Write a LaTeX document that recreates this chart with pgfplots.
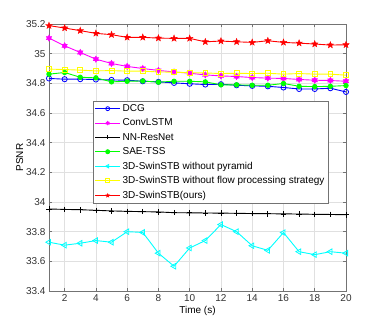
\documentclass[border=0pt]{standalone}
\usepackage{fontspec}
\setmainfont{Liberation Sans}
\usepackage{pgfplots}
\pgfplotsset{compat=1.18}
\definecolor{axgrey}{gray}{0.45}
\definecolor{gridgrey}{gray}{0.88}
\definecolor{mblue}{rgb}{0,0,1}
\definecolor{mmagenta}{rgb}{1,0,1}
\definecolor{mgreen}{rgb}{0,1,0}
\definecolor{mcyan}{rgb}{0,1,1}
\definecolor{myellow}{rgb}{1,1,0}
\definecolor{mred}{rgb}{1,0,0}

% filled five- and six-pointed stars, as MATLAB draws them
\pgfdeclareplotmark{pentagram}{%
  \pgfpathmoveto{\pgfpointpolar{90}{\pgfplotmarksize}}%
  \pgfpathlineto{\pgfpointpolar{126}{0.42\pgfplotmarksize}}%
  \pgfpathlineto{\pgfpointpolar{162}{\pgfplotmarksize}}%
  \pgfpathlineto{\pgfpointpolar{198}{0.42\pgfplotmarksize}}%
  \pgfpathlineto{\pgfpointpolar{234}{\pgfplotmarksize}}%
  \pgfpathlineto{\pgfpointpolar{270}{0.42\pgfplotmarksize}}%
  \pgfpathlineto{\pgfpointpolar{306}{\pgfplotmarksize}}%
  \pgfpathlineto{\pgfpointpolar{342}{0.42\pgfplotmarksize}}%
  \pgfpathlineto{\pgfpointpolar{18}{\pgfplotmarksize}}%
  \pgfpathlineto{\pgfpointpolar{54}{0.42\pgfplotmarksize}}%
  \pgfpathclose\pgfusepathqfillstroke}
\pgfdeclareplotmark{hexagram}{%
  \pgfpathmoveto{\pgfpointpolar{90}{\pgfplotmarksize}}%
  \pgfpathlineto{\pgfpointpolar{120}{0.58\pgfplotmarksize}}%
  \pgfpathlineto{\pgfpointpolar{150}{\pgfplotmarksize}}%
  \pgfpathlineto{\pgfpointpolar{180}{0.58\pgfplotmarksize}}%
  \pgfpathlineto{\pgfpointpolar{210}{\pgfplotmarksize}}%
  \pgfpathlineto{\pgfpointpolar{240}{0.58\pgfplotmarksize}}%
  \pgfpathlineto{\pgfpointpolar{270}{\pgfplotmarksize}}%
  \pgfpathlineto{\pgfpointpolar{300}{0.58\pgfplotmarksize}}%
  \pgfpathlineto{\pgfpointpolar{330}{\pgfplotmarksize}}%
  \pgfpathlineto{\pgfpointpolar{0}{0.58\pgfplotmarksize}}%
  \pgfpathlineto{\pgfpointpolar{30}{\pgfplotmarksize}}%
  \pgfpathlineto{\pgfpointpolar{60}{0.58\pgfplotmarksize}}%
  \pgfpathclose\pgfusepathqfillstroke}

\begin{document}
\begin{tikzpicture}
% page the size of the reference: axis box sits 49px in and 36px up
\path[use as bounding box] (-49pt,-36pt) rectangle (333pt,291pt);
\begin{axis}[
  at={(0pt,0pt)}, anchor=south west,
  scale only axis, width=297pt, height=267pt,
  xmin=1, xmax=20, ymin=33.4, ymax=35.2,
  xtick={2,4,...,20},
  ytick={33.4,33.6,...,35.21},
  yticklabel style={/pgf/number format/fixed,/pgf/number format/precision=1},
  /pgf/number format/assume math mode=true,
  font=\fontsize{10}{12}\selectfont,
  tick label style={font=\fontsize{10}{12}\selectfont,text=black!80},
  grid=major, grid style={gridgrey,line width=0.5pt},
  axis line style={axgrey,line width=0.6pt},
  major tick style={axgrey,line width=0.6pt},
  tick align=inside, major tick length=3pt,
  xlabel={Time (s)}, ylabel={PSNR},
  xlabel style={yshift=2pt},
  ylabel style={yshift=-4pt},
  every axis plot/.append style={line width=0.9pt},
  legend style={at={(0.148,0.713)}, anchor=north west,
    draw=axgrey, line width=0.6pt, font=\fontsize{10}{12}\selectfont,
    row sep=1.9pt, inner sep=1.5pt},
  legend cell align=left,
  legend image code/.code={%
    \draw[mark repeat=2,mark phase=2,mark size=2pt]
      plot coordinates {(0pt,0pt) (12.5pt,0pt) (25pt,0pt)};},
]
\addplot[mblue, mark=o, mark size=2.6pt, mark options={line width=0.8pt}] coordinates {
 (1,34.833) (2,34.828) (3,34.828) (4,34.826) (5,34.823) (6,34.821) (7,34.814)
 (8,34.810) (9,34.803) (10,34.797) (11,34.792) (12,34.794) (13,34.787) (14,34.783)
 (15,34.780) (16,34.772) (17,34.762) (18,34.762) (19,34.767) (20,34.742)};
\addplot[mmagenta, mark=hexagram, mark size=3.2pt, mark options={fill=mmagenta,line width=0.4pt}] coordinates {
 (1,35.105) (2,35.053) (3,35.008) (4,34.963) (5,34.934) (6,34.914) (7,34.900)
 (8,34.887) (9,34.877) (10,34.868) (11,34.857) (12,34.850) (13,34.846) (14,34.839)
 (15,34.835) (16,34.833) (17,34.826) (18,34.821) (19,34.819) (20,34.814)};
\addplot[black, mark=+, mark size=2.8pt, mark options={line width=0.7pt}] coordinates {
 (1,33.953) (2,33.950) (3,33.948) (4,33.944) (5,33.940) (6,33.937) (7,33.935)
 (8,33.933) (9,33.928) (10,33.927) (11,33.926) (12,33.925) (13,33.924) (14,33.922)
 (15,33.921) (16,33.920) (17,33.919) (18,33.917) (19,33.916) (20,33.914)};
\addplot[mgreen, mark=*, mark size=2.2pt, mark options={fill=mgreen}] coordinates {
 (1,34.862) (2,34.873) (3,34.841) (4,34.837) (5,34.810) (6,34.814) (7,34.816)
 (8,34.808) (9,34.814) (10,34.814) (11,34.810) (12,34.790) (13,34.790) (14,34.787)
 (15,34.787) (16,34.799) (17,34.780) (18,34.778) (19,34.780) (20,34.785)};
\addplot[mcyan, mark=triangle, mark size=3.2pt, mark options={rotate=90,line width=0.8pt}] coordinates {
 (1,33.729) (2,33.709) (3,33.722) (4,33.740) (5,33.729) (6,33.800) (7,33.795)
 (8,33.655) (9,33.567) (10,33.690) (11,33.740) (12,33.848) (13,33.800) (14,33.705)
 (15,33.674) (16,33.794) (17,33.665) (18,33.645) (19,33.665) (20,33.655)};
\addplot[myellow, mark=square, mark size=2.4pt, mark options={line width=0.8pt}] coordinates {
 (1,34.896) (2,34.893) (3,34.889) (4,34.884) (5,34.886) (6,34.882) (7,34.882)
 (8,34.877) (9,34.875) (10,34.872) (11,34.870) (12,34.866) (13,34.868) (14,34.866)
 (15,34.868) (16,34.862) (17,34.866) (18,34.862) (19,34.862) (20,34.855)};
\addplot[mred, mark=pentagram, mark size=3.4pt, mark options={fill=mred,line width=0.4pt}] coordinates {
 (1,35.189) (2,35.173) (3,35.155) (4,35.137) (5,35.128) (6,35.110) (7,35.110)
 (8,35.105) (9,35.103) (10,35.103) (11,35.080) (12,35.085) (13,35.080) (14,35.076)
 (15,35.087) (16,35.076) (17,35.071) (18,35.065) (19,35.058) (20,35.060)};
\legend{DCG, ConvLSTM, NN-ResNet, SAE-TSS, 3D-SwinSTB without pyramid,
  3D-SwinSTB without flow processing strategy, 3D-SwinSTB(ours)}
\end{axis}
\end{tikzpicture}
\end{document}
